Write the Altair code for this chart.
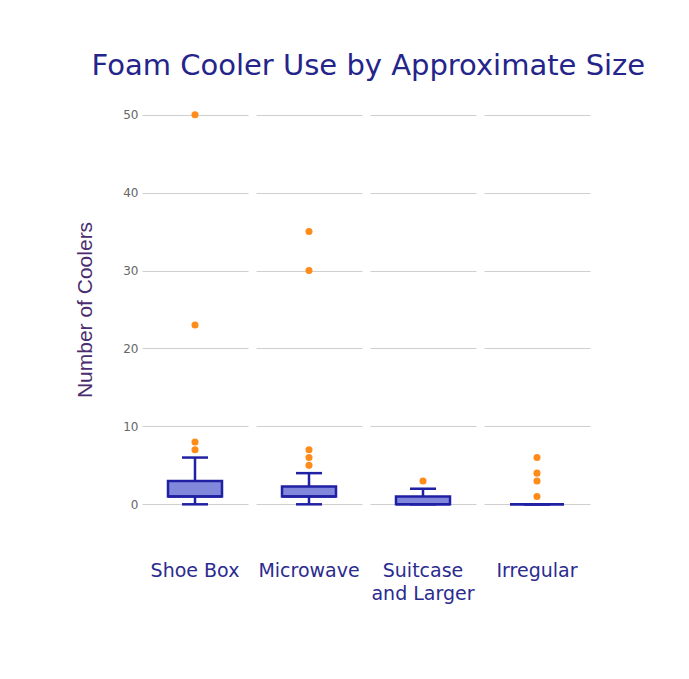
import altair as alt
import pandas as pd

categories = ["Shoe Box", "Microwave", "Suitcase and Larger", "Irregular"]
q1 = [1, 1, 0, 0]
median = [1, 1, 0, 0]
q3 = [3, 2.3, 1, 0]
whisker_low = [0, 0, 0, 0]
whisker_high = [6, 4, 2, 0]

outlier_cat = (["Shoe Box"] * 4 + ["Microwave"] * 5
               + ["Suitcase and Larger"] + ["Irregular"] * 4)
outlier_val = [7, 8, 23, 50, 5, 6, 7, 30, 35, 3, 1, 3, 4, 6]

box_df = pd.DataFrame({"cat": categories, "q1": q1, "med": median, "q3": q3,
                       "lo": whisker_low, "hi": whisker_high, "kind": "box"})
out_df = pd.DataFrame({"cat": outlier_cat, "val": outlier_val, "kind": "out"})
df = pd.concat([box_df, out_df], ignore_index=True)

STROKE = "#2020a4"
FILL = "#8188dc"
ORANGE = "#ff8c1a"
W = 106
C = W / 2

yscale = alt.Scale(domain=[-1.5, 51.5], nice=False, zero=False)
yaxis = alt.Axis(values=[0, 10, 20, 30, 40, 50], ticks=False, domain=False,
                 labelPadding=4, labelFontSize=12, labelColor="#666666",
                 labelFont="DejaVu Sans", titleFontSize=21, titleColor="#4a2d6e",
                 titleFont="Liberation Sans", titleFontWeight="normal",
                 titlePadding=27, gridColor="#cfcfcf")
TITLE = "Number of Coolers"

def Y(field):
    return alt.Y(field, scale=yscale, axis=yaxis, title=TITLE)

box = alt.Chart().transform_filter("datum.kind == 'box'")
outs = alt.Chart().transform_filter("datum.kind == 'out'")

rect = box.mark_rect(fill=FILL, stroke=STROKE, strokeWidth=2.5).encode(
    y=Y("q1:Q"), y2="q3:Q", x=alt.value(C - 27), x2=alt.value(C + 27))
wl = box.mark_rule(color=STROKE, strokeWidth=2.5).encode(
    y=Y("lo:Q"), y2="q1:Q", x=alt.value(C))
wh = box.mark_rule(color=STROKE, strokeWidth=2.5).encode(
    y=Y("q3:Q"), y2="hi:Q", x=alt.value(C))
capl = box.mark_rule(color=STROKE, strokeWidth=2.5).encode(
    y=Y("lo:Q"), x=alt.value(C - 13), x2=alt.value(C + 13))
caph = box.mark_rule(color=STROKE, strokeWidth=2.5).encode(
    y=Y("hi:Q"), x=alt.value(C - 13), x2=alt.value(C + 13))
med = box.mark_rule(color=STROKE, strokeWidth=2.5).encode(
    y=Y("med:Q"), x=alt.value(C - 27), x2=alt.value(C + 27))
pts = outs.mark_circle(size=50, color=ORANGE, opacity=1).encode(
    y=Y("val:Q"), x=alt.value(C))

layered = alt.layer(rect, wl, wh, capl, caph, med, pts, data=df).properties(
    width=W, height=413)

chart = layered.facet(
    column=alt.Column("cat:N", sort=categories, title=None,
                      header=alt.Header(
                          labelOrient="bottom", labelFontSize=19,
                          labelColor="#2b2b8f", labelFont="DejaVu Sans",
                          labelPadding=46, labelLineHeight=23,
                          labelExpr="datum.value == 'Suitcase and Larger' ? ['Suitcase', 'and Larger'] : datum.value")),
    spacing=8,
).properties(
    title=alt.TitleParams("Foam Cooler Use by Approximate Size", fontSize=29,
                          color="#24248a", font="DejaVu Sans",
                          fontWeight="normal", anchor="middle", offset=22,
                          dx=36),
    padding={"left": 66, "top": 44, "right": 10, "bottom": 10},
).configure(background="white").configure_view(stroke=None)

chart.save("out.html", embed_options={"renderer": "svg", "actions": False})
